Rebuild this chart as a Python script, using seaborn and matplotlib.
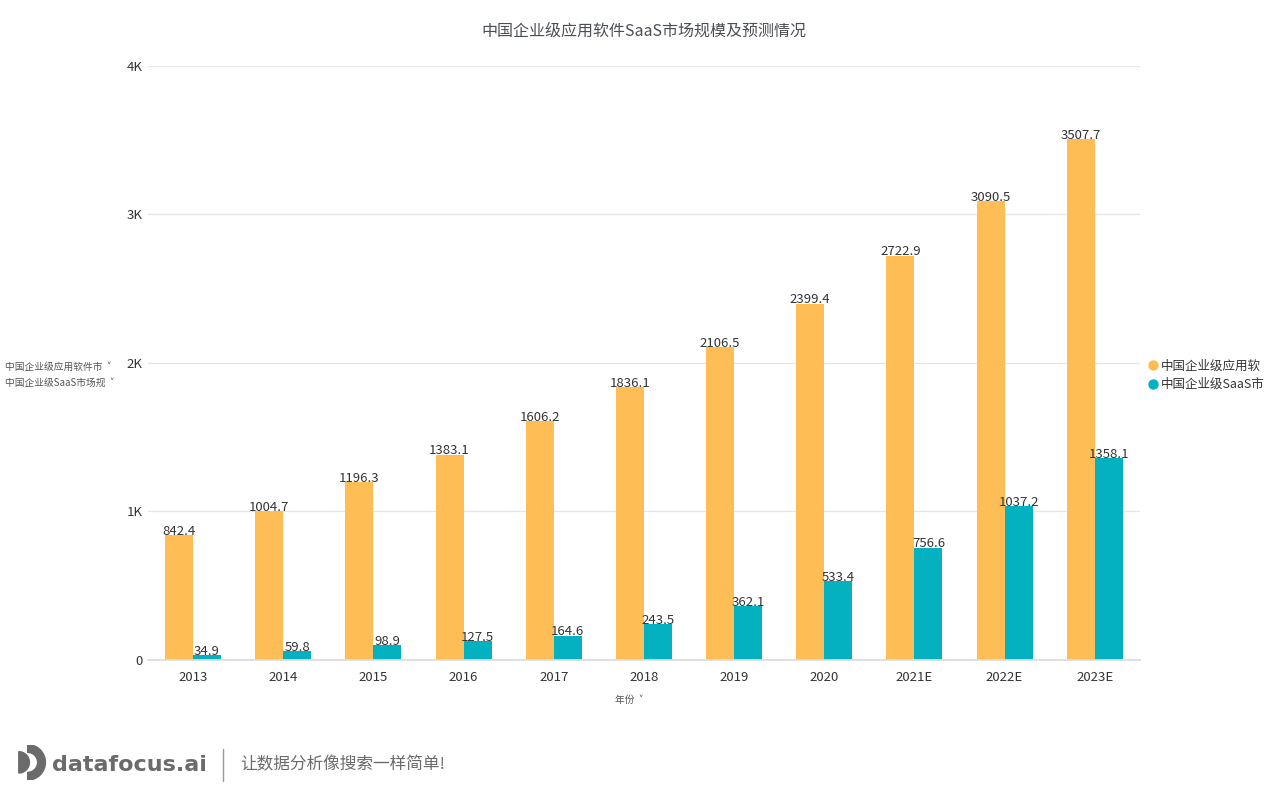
"""
中国企业级应用软件 / SaaS 市场规模柱状图
"""
import numpy as np
import pandas as pd
import matplotlib
matplotlib.use("Agg")
import matplotlib.pyplot as plt
import matplotlib.patches as mpatches
import seaborn as sns

# données
years = ["2013", "2014", "2015", "2016", "2017", "2018", "2019", "2020", "2021E", "2022E", "2023E"]
software = [842.4, 1004.7, 1196.3, 1383.1, 1606.2, 1836.1, 2106.5, 2399.4, 2722.9, 3090.5, 3507.7]
saas = [34.9, 59.8, 98.9, 127.5, 164.6, 243.5, 362.1, 533.4, 756.6, 1037.2, 1358.1]
series_names = ["中国企业级应用软件市场规模", "中国企业级SaaS市场规模"]
legend_labels = ["中国企业级应用软", "中国企业级SaaS市"]
axis_labels = ["中国企业级应用软件市", "中国企业级SaaS市场规"]
ytick_vals = [0, 1000, 2000, 3000, 4000]
ytick_labels = ["0", "1K", "2K", "3K", "4K"]
colors = ["#FEBE55", "#04B1C1"]

sns.set_theme(style="white")
plt.rcParams['font.family'] = ['Noto Sans CJK SC', 'DejaVu Sans']

df = pd.DataFrame({
    "年份": years * 2,
    "值": software + saas,
    "系列": [series_names[0]] * len(years) + [series_names[1]] * len(years),
})

fig = plt.figure(figsize=(12.69, 7.9), dpi=100)
ax = fig.add_axes([0.1166, 0.1646, 0.7816, 0.7519])

sns.barplot(data=df, x="年份", y="值", hue="系列", palette=colors,
            width=0.62, gap=0, saturation=1, linewidth=0, ax=ax, legend=False)

ax.set_xlim(-0.5, len(years) - 0.5)
ax.set_ylim(0, 4000)
ax.set_yticks(ytick_vals)
ax.set_yticklabels(ytick_labels)
ax.yaxis.grid(True, color="#e6e6e6", linewidth=0.9)
ax.set_axisbelow(True)
for side in ["top", "right", "left"]:
    ax.spines[side].set_visible(False)
ax.spines["bottom"].set_color("#dddddd")
ax.tick_params(axis="both", length=0, labelsize=9.5, colors="#333333")
ax.tick_params(axis="x", pad=8)
ax.tick_params(axis="y", pad=4)
ax.set_xlabel("")
ax.set_ylabel("")

# étiquettes des valeurs
for cont in ax.containers:
    ax.bar_label(cont, fmt="%.1f", fontsize=9.5, color="#333333", padding=-2)

ax.set_title("中国企业级应用软件SaaS市场规模及预测情况", fontsize=11.5,
             color="#4a4f55", pad=22)

# libellés de l'axe Y
fig.text(0.004, 0.535, axis_labels[0] + "  ˅", fontsize=7, color="#555555", va="center")
fig.text(0.004, 0.515, axis_labels[1] + "  ˅", fontsize=7, color="#555555", va="center")
fig.text(0.485, 0.114, "年份  ˅", fontsize=7, color="#555555", va="center")

# légende
handles = [plt.Line2D([], [], marker="o", linestyle="", markersize=6.5,
                      markerfacecolor=c, markeredgecolor=c) for c in colors]
fig.legend(handles, legend_labels, loc="center left", bbox_to_anchor=(0.901, 0.525),
           frameon=False, fontsize=9, handletextpad=0.0, handlelength=1.2,
           labelspacing=0.45, labelcolor="#333333", borderaxespad=0, borderpad=0.2)

# logo en bas
logo_ax = fig.add_axes([0.012, 0.0125, 0.028, 0.045])
logo_ax.set_xlim(0, 1)
logo_ax.set_ylim(0, 1)
logo_ax.axis("off")
logo_ax.add_patch(mpatches.Wedge((0.35, 0.5), 0.5, -90, 90, width=0.22, color="#6b6b6b"))
logo_ax.add_patch(mpatches.Wedge((0.1, 0.5), 0.3, -90, 90, color="#6b6b6b"))
fig.text(0.041, 0.032, "datafocus.ai", fontsize=16, fontweight="bold",
         color="#6b6b6b", family=["DejaVu Sans"], va="center")
fig.add_artist(plt.Line2D([0.176, 0.176], [0.012, 0.052], color="#999999", linewidth=1))
fig.text(0.189, 0.032, "让数据分析像搜索一样简单!", fontsize=12, color="#6b6b6b", va="center")

plt.savefig("out.png", dpi=100)
plt.close()
